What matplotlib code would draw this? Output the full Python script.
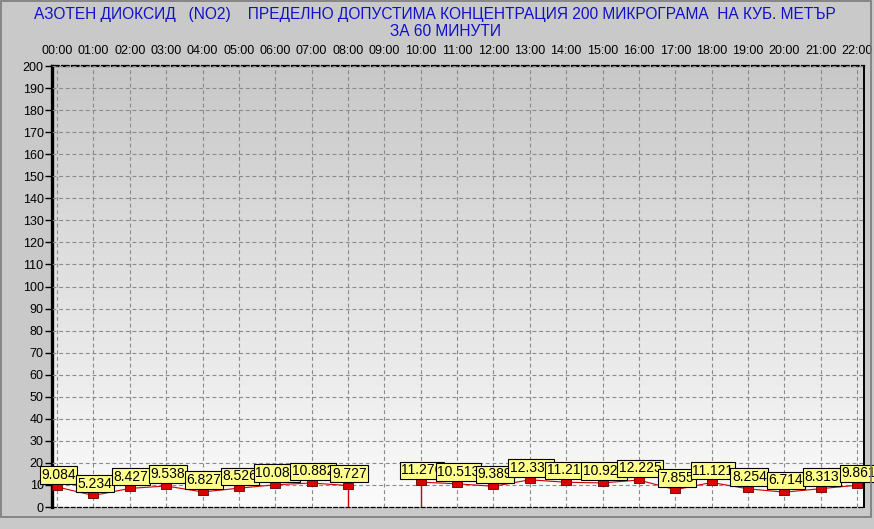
import numpy as np
import matplotlib
matplotlib.use("Agg")
import matplotlib.pyplot as plt
from matplotlib.colors import LinearSegmentedColormap
from matplotlib.patches import Rectangle

plt.rcParams['font.family'] = ['Liberation Sans', 'DejaVu Sans']

# hourly NO2 values, 09:00 missing
hours = ["00:00", "01:00", "02:00", "03:00", "04:00", "05:00", "06:00", "07:00",
         "08:00", "09:00", "10:00", "11:00", "12:00", "13:00", "14:00", "15:00",
         "16:00", "17:00", "18:00", "19:00", "20:00", "21:00", "22:00"]
values = [9.084, 5.234, 8.427, 9.538, 6.827, 8.526, 10.086, 10.882,
          9.727, np.nan, 11.276, 10.513, 9.389, 12.333, 11.213, 10.923,
          12.225, 7.855, 11.121, 8.254, 6.714, 8.313, 9.861]
yticks = list(range(0, 201, 10))

W, H = 874, 529
fig = plt.figure(figsize=(W / 100, H / 100), dpi=100, facecolor="#c9c9c9")
ax = fig.add_axes([52 / W, 1 - 507 / H, (864 - 52) / W, (507 - 66) / H])

x = np.arange(len(hours))
vals = np.array(values)
xlim = (-0.14, len(hours) - 1 + 0.19)
ax.set_xlim(*xlim)
ax.set_ylim(0, 200)

# background gradient
cmap = LinearSegmentedColormap.from_list("bg", ["#fbfbfb", "#c8c8c8"])
ax.imshow(np.linspace(0, 1, 256).reshape(-1, 1), cmap=cmap, origin="lower",
          extent=[xlim[0], xlim[1], 0, 200], aspect="auto", zorder=0)

ax.set_xticks(x)
ax.set_xticklabels(hours)
ax.set_yticks(yticks)
ax.xaxis.tick_top()
ax.tick_params(axis="x", length=0, pad=6.5, labelsize=9)
ax.tick_params(axis="y", length=5, width=1, pad=1, labelsize=9)
ax.grid(True, color="#8a8a8a", linestyle=(0, (3.5, 2.5)), linewidth=0.8, zorder=1)
ax.set_axisbelow(False)

ax.spines["left"].set_linewidth(2.4)
ax.spines["right"].set_linewidth(1.4)
ax.spines["top"].set_linewidth(1.6)
ax.spines["top"].set_linestyle((0, (3, 1.5)))
ax.spines["bottom"].set_linewidth(0.9)
ax.spines["bottom"].set_linestyle((0, (3, 2)))

# line and drops around the gap
ax.plot(x, vals, color="#cc0000", linewidth=0.8, zorder=3)
gap = np.where(np.isnan(vals))[0]
for g in gap:
    ax.vlines([g - 1, g + 1], 0, vals[[g - 1, g + 1]], color="#cc0000",
              linewidth=1.0, zorder=3)

rect = [(-1.5, -1), (1.5, -1), (1.5, 1), (-1.5, 1), (-1.5, -1)]
ax.plot(x, vals, linestyle="none", marker=rect, markersize=7,
        markerfacecolor="#dd0000", markeredgecolor="#660000",
        markeredgewidth=0.6, zorder=4)

for xi, v in zip(x, vals):
    if np.isnan(v):
        continue
    ax.annotate(f"{v:g}", (xi, v), xytext=(1, 8.5), textcoords="offset points",
                ha="center", va="center", fontsize=10, zorder=5,
                bbox=dict(boxstyle="square,pad=0.12", facecolor="#ffff8c",
                          edgecolor="black", linewidth=0.8),
                annotation_clip=False)

fig.text(435 / W, 1 - 14 / H,
         "АЗОТЕН ДИОКСИД   (NO2)    ПРЕДЕЛНО ДОПУСТИМА КОНЦЕНТРАЦИЯ 200 МИКРОГРАМА  НА КУБ. МЕТЪР",
         ha="center", va="center", color="#1010c8", fontsize=11.2)
fig.text(446 / W, 1 - 31 / H, "ЗА 60 МИНУТИ",
         ha="center", va="center", color="#1010c8", fontsize=11.2)

# outer frame
fig.patches.append(Rectangle((1 / W, 1 - 517 / H), 870 / W, 516 / H,
                             transform=fig.transFigure, fill=False,
                             edgecolor="#7a7a7a", linewidth=1.2))

fig.savefig("out.png", dpi=100, facecolor=fig.get_facecolor())
